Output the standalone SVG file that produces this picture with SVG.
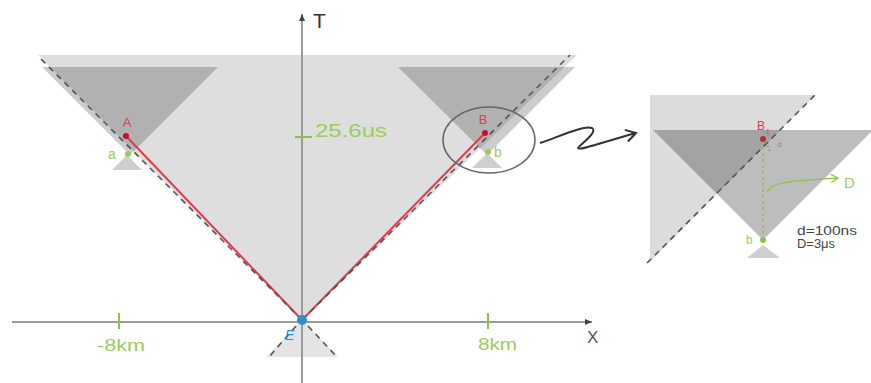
<svg xmlns="http://www.w3.org/2000/svg" width="871" height="383" viewBox="0 0 871 383">
<defs>
<style>
.txt{font-family:"Liberation Sans",Arial,sans-serif}
.green{fill:#9ccc5c}
.red{fill:#e03c4b}
.dash{stroke:#555;stroke-width:1.6;stroke-dasharray:6 5;fill:none}
.axis{stroke:#9a9a9a;stroke-width:2;fill:none}
.tick{stroke:#8cc63e;stroke-width:2}
.light{fill:#dedede}
.dark{fill:#000;fill-opacity:0.2}
.small{fill:#cfcfcf}
</style>
<marker id="axarrow" markerWidth="8" markerHeight="8" refX="7" refY="4" orient="auto" markerUnits="userSpaceOnUse">
<path d="M0,1 L7,4 L0,7 Z" fill="#444"/>
</marker>
<marker id="openarrow" markerWidth="14" markerHeight="14" refX="11" refY="7" orient="auto" markerUnits="userSpaceOnUse">
<path d="M1,1 L11,7 L1,13" fill="none" stroke="#333" stroke-width="2"/>
</marker>
<marker id="garrow" markerWidth="10" markerHeight="10" refX="8" refY="5" orient="auto" markerUnits="userSpaceOnUse">
<path d="M1,1 L8,5 L1,9" fill="none" stroke="#8cc63e" stroke-width="1.3"/>
</marker>
</defs>
<rect width="871" height="383" fill="#ffffff"/>

<g id="cones">
<polygon class="light" points="38,55 577,55 302,320"/>
<polygon class="dark" points="42,67 218,67 130,155"/>
<polygon class="dark" points="398,67 575,67 487,155"/>
<polygon class="small" points="127,155 112,170 142,170"/>
<polygon class="small" points="487,153 472,168 502,168"/>
<polygon fill="#e4e4e4" points="302,320 266,357 338,357"/>
</g>

<g id="axes">
<line class="axis" x1="12" y1="322" x2="592" y2="322" marker-end="url(#axarrow)"/>
<line class="axis" x1="302" y1="383" x2="302" y2="14" marker-end="url(#axarrow)"/>
<text class="txt" x="313" y="28" font-size="21" fill="#333">T</text>
<text class="txt" x="587" y="343" font-size="17" fill="#555">X</text>
<line class="tick" x1="119" y1="313" x2="119" y2="329"/>
<line class="tick" x1="488" y1="313" x2="488" y2="329"/>
<line class="tick" x1="295" y1="137" x2="312" y2="137"/>
<text class="txt green" x="97" y="351" font-size="16" textLength="48" lengthAdjust="spacingAndGlyphs">-8km</text>
<text class="txt green" x="478" y="350" font-size="16" textLength="39" lengthAdjust="spacingAndGlyphs">8km</text>
<text class="txt green" x="315" y="137" font-size="19" textLength="72" lengthAdjust="spacingAndGlyphs">25.6us</text>
</g>

<g id="connectors">
<line x1="302" y1="320" x2="126" y2="136" stroke="#e03c4b" stroke-width="2"/>
<line x1="302" y1="320" x2="485" y2="133" stroke="#e03c4b" stroke-width="2"/>
<line class="dash" x1="302" y1="320" x2="40" y2="58"/>
<line class="dash" x1="302" y1="320" x2="570" y2="55"/>
<line class="dash" x1="296" y1="326" x2="269" y2="357"/>
<line class="dash" x1="308" y1="326" x2="337" y2="357"/>
<path d="M540,143 C558,137 584,125 592,128 C599,132 578,146 578,148 C579,151 600,143 636,133" fill="none" stroke="#333" stroke-width="2" marker-end="url(#openarrow)"/>
</g>

<g id="node-A">
<circle cx="126" cy="136" r="3" fill="#c8102e"/>
<text class="txt red" x="127" y="127" font-size="13" text-anchor="middle">A</text>
</g>
<g id="node-a">
<circle cx="128" cy="154" r="3" fill="#9ccc5c"/>
<text class="txt green" x="108" y="159" font-size="14">a</text>
</g>
<g id="node-B">
<circle cx="485" cy="133" r="3" fill="#c8102e"/>
<text class="txt red" x="483" y="124" font-size="13" text-anchor="middle">B</text>
<ellipse cx="489" cy="140" rx="46" ry="33" fill="none" stroke="#666" stroke-width="1.5"/>
</g>
<g id="node-b">
<circle cx="488" cy="152" r="3" fill="#9ccc5c"/>
<text class="txt green" x="494" y="157" font-size="14">b</text>
</g>
<g id="node-E">
<circle cx="302" cy="320" r="5" fill="#2a8fd0"/>
<text class="txt" x="285" y="340" font-size="14" font-style="italic" fill="#2a8fd0">E</text>
</g>

<g id="inset">
<polygon fill="#dcdcdc" points="650,95 815,95 650,262"/>
<polygon fill="#000" fill-opacity="0.26" points="653,130 873,130 763,240"/>
<polygon class="small" points="763,245 747,258 780,258"/>
<line class="dash" x1="647" y1="263" x2="817" y2="93"/>
<line x1="763" y1="240" x2="763" y2="142" stroke="#8cc63e" stroke-width="1.5" stroke-dasharray="3 3"/>
<circle cx="763" cy="240" r="3" fill="#8cc63e"/>
<text class="txt green" x="746" y="244" font-size="12">b</text>
<circle cx="763" cy="139" r="3" fill="#b03040"/>
<text class="txt red" x="757" y="130" font-size="12">B</text>
<text class="txt red" x="766" y="134" font-size="7">1</text>
<line x1="766" y1="142" x2="770" y2="152" stroke="#777" stroke-width="1" stroke-dasharray="2 2"/>
<text class="txt" x="777" y="147" font-size="8" fill="#888">d</text>
<path d="M767,192 C772,182 790,181 838,178" fill="none" stroke="#8cc63e" stroke-width="1.3" marker-end="url(#garrow)"/>
<text class="txt green" x="844" y="188" font-size="15">D</text>
<text class="txt" x="797" y="235" font-size="12" fill="#444" textLength="60" lengthAdjust="spacingAndGlyphs">d=100ns</text>
<text class="txt" x="797" y="248" font-size="12" fill="#444" textLength="38" lengthAdjust="spacingAndGlyphs">D=3μs</text>
</g>
</svg>
